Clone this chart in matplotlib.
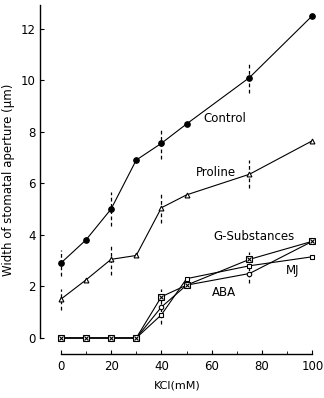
import matplotlib
matplotlib.use("Agg")
import matplotlib.pyplot as plt

kcl = [0, 10, 20, 30, 40, 50, 75, 100]
control = [2.9, 3.8, 5.0, 6.9, 7.55, 8.3, 10.1, 12.5]
proline = [1.5, 2.25, 3.05, 3.2, 5.05, 5.55, 6.35, 7.65]
gsub = [0, 0, 0, 0, 1.6, 2.05, 3.05, 3.75]
aba = [0, 0, 0, 0, 1.2, 2.05, 2.5, 3.75]
mj = [0, 0, 0, 0, 0.9, 2.3, 2.8, 3.15]

control_err = [0.5, 0, 0.65, 0, 0.6, 0, 0.6, 0]
proline_err = [0.4, 0, 0.6, 0, 0.6, 0, 0.55, 0]
gsub_err = [0, 0, 0, 0, 0.3, 0, 0.3, 0]
aba_err = [0, 0, 0, 0, 0, 0, 0.35, 0]
mj_err = [0, 0, 0, 0, 0.35, 0, 0, 0]

fig = plt.figure(figsize=(3.24, 3.98), dpi=100)
ax = fig.add_axes([0.123, 0.1106, 0.849, 0.876])

def draw(y, err, marker, fc, ms, zo=3):
    ax.plot(kcl, y, color='black', lw=0.8, marker=marker, mfc=fc, mec='black', ms=ms, mew=0.8, zorder=zo)
    xs = [k for k, e in zip(kcl, err) if e > 0]
    ys = [v for v, e in zip(y, err) if e > 0]
    es = [e for e in err if e > 0]
    if xs:
        ax.errorbar(xs, ys, yerr=es, fmt='none', ecolor='black', elinewidth=0.9, capsize=0,
                    linestyle='none', zorder=2)[2][0].set_linestyle((0, (3, 2)))

draw(control, control_err, 'o', 'black', 4)
draw(proline, proline_err, '^', 'white', 3.5)
draw(mj, mj_err, 's', 'white', 3.5)
draw(aba, aba_err, 'o', 'white', 3.2)
draw(gsub, gsub_err, 's', 'white', 4.2, zo=4)
ax.plot(kcl, gsub, linestyle='none', marker='x', color='black', ms=3.5, mew=0.8, zorder=5)

ax.set_xlim(-8.3, 101)
ax.set_ylim(-0.62, 12.9)
ax.spines['top'].set_visible(False)
ax.spines['right'].set_visible(False)
ax.spines['left'].set_bounds(0, 12.9)
ax.spines['bottom'].set_bounds(0, 100)
for s in ax.spines.values():
    s.set_linewidth(1.0)

ax.set_xticks([0, 20, 40, 60, 80, 100])
ax.set_xticks([10, 30, 50, 70, 90], minor=True)
ax.set_yticks([0, 2, 4, 6, 8, 10, 12])
ax.tick_params(axis='x', direction='in', length=3, labelsize=8.5, pad=4)
ax.tick_params(axis='x', which='minor', direction='in', length=2)
ax.tick_params(axis='y', direction='in', length=3, labelsize=8.5, pad=3)

ax.set_xlabel('KCl(mM)', fontsize=8, labelpad=6)
ax.set_ylabel('Width of stomatal aperture (\u03bcm)', fontsize=8.5, labelpad=4)

ax.text(56.7, 8.5, 'Control', fontsize=8.5, va='center')
ax.text(53.5, 6.43, 'Proline', fontsize=8.5, va='center')
ax.text(60.6, 3.92, 'G-Substances', fontsize=8.5, va='center')
ax.text(89.5, 2.63, 'MJ', fontsize=8.5, va='center')
ax.text(60, 1.75, 'ABA', fontsize=8.5, va='center')

fig.savefig('out.png', dpi=100)
